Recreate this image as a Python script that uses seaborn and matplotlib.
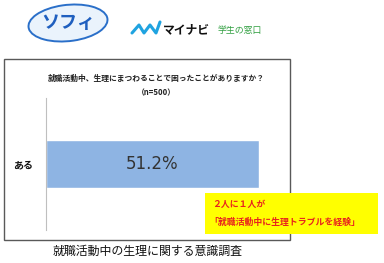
import matplotlib
matplotlib.use("Agg")
import matplotlib.pyplot as plt
import seaborn as sns
import pandas as pd
from matplotlib.patches import Rectangle, Ellipse
from matplotlib.lines import Line2D

categories = ["ある"]
values = [51.2]
title_line1 = "就職活動中、生理にまつわることで困ったことがありますか？"
title_line2 = "（n=500）"
callout_lines = ["２人に１人が", "「就職活動中に生理トラブルを経験」"]
caption = "就職活動中の生理に関する意識調査"

sns.set_theme(style="white")
plt.rcParams['font.family'] = ['Noto Sans CJK JP', 'DejaVu Sans']

W, H = 384, 263
fig = plt.figure(figsize=(W / 100, H / 100), dpi=100)

def fx(x):
    return x / W

def fy(y):
    return 1 - y / H

# outer frame
fig.add_artist(Rectangle((fx(4), fy(240)), fx(290) - fx(4), fy(59) - fy(240),
                         transform=fig.transFigure, fill=False, edgecolor="#595959", lw=1.0))

ax = fig.add_axes([fx(46), fy(230), fx(290) - fx(46), fy(98) - fy(230)])
df = pd.DataFrame({"cat": categories, "val": values})
sns.barplot(data=df, x="val", y="cat", orient="h", color="#8EB4E3", width=0.37,
            saturation=1, ax=ax)
ax.set_xlim(0, 58.65)
ax.set_xlabel("")
ax.set_ylabel("")
ax.set_xticks([])
for s in ["top", "right", "bottom"]:
    ax.spines[s].set_visible(False)
ax.spines["left"].set_color("#BFBFBF")
ax.spines["left"].set_linewidth(0.8)
ax.tick_params(axis="y", length=0, pad=9.5)
for lab in ax.get_yticklabels():
    lab.set_fontsize(7.2)
    lab.set_fontweight("bold")
    lab.set_color("#111111")
ax.patch.set_alpha(0)
ax.bar_label(ax.containers[0], labels=[f"{v:.1f}%" for v in values], label_type="center",
             fontsize=12, color="#333333", family=["DejaVu Sans"])

# title
fig.text(fx(156), fy(78), title_line1, ha="center", va="center", fontsize=5.6,
         fontweight="bold", color="#222222")
fig.text(fx(156), fy(93), title_line2, ha="center", va="center", fontsize=5.6,
         fontweight="bold", color="#222222")

# callout box
fig.add_artist(Rectangle((fx(205), fy(234)), fx(378) - fx(205), fy(193) - fy(234),
                         transform=fig.transFigure, facecolor="#FFFF00", edgecolor="none"))
fig.text(fx(212), fy(204), callout_lines[0], ha="left", va="center", fontsize=6.4,
         fontweight="bold", color="#E8231E")
fig.text(fx(209), fy(222), callout_lines[1], ha="left", va="center", fontsize=6.4,
         fontweight="bold", color="#E8231E")

# caption
fig.text(fx(148), fy(251), caption, ha="center", va="center", fontsize=8.6, color="#111111")

# Sofy logo
fig.add_artist(Ellipse((fx(68), fy(23)), fx(80), fy(0) - fy(36), angle=12,
                       transform=fig.transFigure, facecolor="#EAF3FC", edgecolor="#2A6FC9", lw=1.4))
fig.text(fx(68), fy(23), "ソフィ", ha="center", va="center", fontsize=13,
         fontweight="bold", color="#1F5FBF", style="italic")

# Mynavi logo
fig.add_artist(Line2D([fx(132), fx(139), fx(144), fx(150), fx(156), fx(160)],
                      [fy(33), fy(25), fy(33), fy(25), fy(33), fy(22)],
                      transform=fig.transFigure, color="#1FA3E0", lw=2.2,
                      solid_capstyle="round"))
fig.text(fx(163), fy(30), "マイナビ", ha="left", va="center", fontsize=8.5,
         fontweight="bold", color="#111111")
fig.text(fx(217), fy(31), "学生の窓口", ha="left", va="center", fontsize=6.4,
         color="#2E9E3E")

fig.savefig("out.png", dpi=100)
